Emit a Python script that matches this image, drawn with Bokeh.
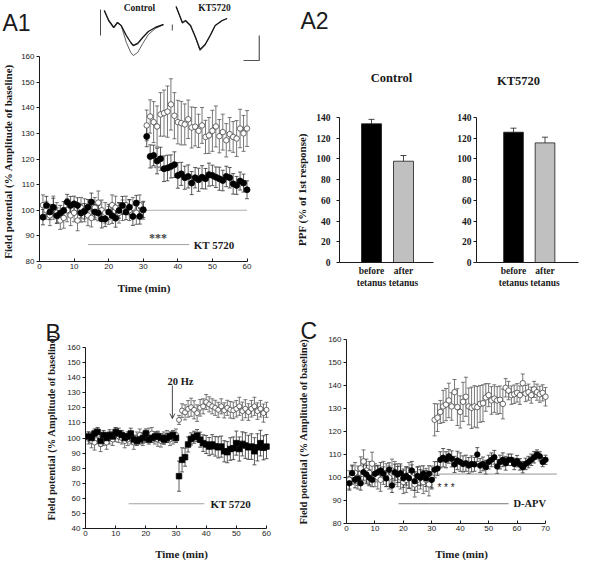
import math
from bokeh.plotting import figure
from bokeh.models import (Range1d, ColumnDataSource, Whisker, Label, Arrow, OpenHead,
                          FixedTicker, LinearAxis)
from bokeh.embed import file_html
from bokeh.resources import INLINE

SANS = "Liberation Sans"
SERIF = "Liberation Serif"
INK = "#1a1a1a"
GRAY_BAR = "#c0c0c0"

# ---------------- A1 data ----------------
A1_TIME = list(range(1, 61))
A1_KT = [97.3, 101.9, 99.3, 101.2, 97.9, 98.9, 99.9, 103.2, 101.9, 102.5,
         101.9, 98.9, 99.6, 101.2, 103.2, 99.3, 98.9, 96.6, 96.6, 99.3,
         97.9, 96.9, 99.9, 101.9, 99.3, 101.2, 97.6, 102.8, 97.6, 100.2,
         128.8, 121.0, 121.4, 119.2, 120.1, 116.2, 116.5, 117.1, 117.8, 113.6,
         114.2, 112.7, 113.2, 110.6, 112.7, 111.9, 112.9, 112.3, 113.9, 113.6,
         112.9, 112.3, 111.6, 113.2, 112.7, 110.3, 109.7, 111.4, 110.6, 108.0]
A1_KT_ERR = [3.0, 3.5, 3.0, 3.5, 3.0, 3.0, 3.5, 3.0, 3.5, 3.0,
             3.0, 3.5, 3.0, 3.0, 3.5, 3.0, 3.0, 3.5, 3.0, 3.0,
             3.0, 3.5, 3.0, 3.5, 3.0, 3.0, 3.5, 3.0, 3.0, 3.0,
             4.0, 4.5, 4.0, 5.0, 4.5, 5.0, 5.0, 4.5, 5.0, 5.0,
             4.5, 4.5, 4.5, 4.5, 4.0, 4.5, 4.5, 4.0, 4.5, 4.0,
             4.0, 4.5, 4.0, 4.0, 4.0, 4.0, 3.5, 3.5, 3.5, 3.5]
A1_CTRL = [102.0, 100.0, 98.0, 101.0, 99.0, 96.0, 97.0, 100.0, 98.0, 99.0,
           96.0, 101.0, 100.0, 98.0, 97.0, 101.0, 103.0, 100.0, 99.0, 98.0,
           102.0, 101.0, 99.0, 100.0, 102.0, 100.0, 101.0, 99.0, 102.0, 100.0,
           133.1, 136.6, 134.4, 132.7, 137.4, 137.9, 138.5, 141.3, 136.9, 134.4,
           134.0, 133.5, 135.5, 132.3, 132.6, 131.0, 133.1, 128.6, 129.2, 131.0,
           132.7, 128.9, 130.5, 127.3, 129.7, 128.6, 128.0, 131.9, 130.0, 131.9]
A1_CTRL_ERR = [4.0, 3.5, 4.0, 4.5, 4.0, 3.5, 4.0, 4.5, 4.0, 3.5,
               4.0, 4.0, 4.5, 4.0, 3.5, 4.0, 4.5, 4.0, 4.0, 3.5,
               4.0, 4.5, 4.0, 4.0, 3.5, 4.0, 4.0, 4.5, 4.0, 3.5,
               6.0, 6.5, 8.0, 8.0, 8.5, 9.0, 10.0, 10.0, 9.0, 8.5,
               8.5, 8.0, 7.5, 8.0, 7.5, 6.5, 7.0, 6.5, 7.0, 8.0,
               8.0, 6.5, 7.0, 6.5, 6.5, 6.0, 7.0, 7.5, 7.0, 7.0]

# inset field-potential traces (time in ms, amplitude in mV)
CTRL_TRACE_T = [0.6, 1.3, 2.1, 2.7, 3.3, 4.1, 4.8, 5.2, 5.9, 6.7, 7.6, 8.7, 10.0]
CTRL_TRACE_PRE = [0.05, -0.2, -0.375, -0.25, -0.33, -0.575, -0.75, -0.825, -0.775,
                  -0.625, -0.475, -0.375, -0.3]
CTRL_TRACE_POST = [0.05, -0.2, -0.375, -0.25, -0.33, -0.75, -1.0, -1.075, -1.0,
                   -0.775, -0.55, -0.4, -0.3]
KT_TRACE_T = [0.6, 1.6, 2.1, 2.9, 3.7, 4.4, 5.2, 6.0, 6.8, 7.9, 8.7]
KT_TRACE_PRE = [0.15, -0.25, -0.2, -0.325, -0.625, -0.925, -0.8, -0.575, -0.325, -0.2, -0.15]
KT_TRACE_POST = [0.15, -0.27, -0.22, -0.34, -0.64, -0.95, -0.82, -0.59, -0.33, -0.21, -0.15]
CTRL_ARTIFACT = [0.075, -0.575]
KT_ARTIFACT = [-0.3, -0.45]
KT_TRACE_OFFSET = 11.4           # ms, horizontal placement of the KT5720 trace
SCALE_MS, SCALE_MV = 2.5, 0.625  # scale bar size
SCALE_CORNER = (25.2, -1.2)

# ---------------- A2 data ----------------
A2_GROUPS = ["before\ntetanus", "after\ntetanus"]
A2_COLORS = ["black", GRAY_BAR]
A2_CONTROL = [133.9, 97.8]
A2_CONTROL_ERR = [4.3, 5.5]
A2_KT = [125.8, 115.5]
A2_KT_ERR = [3.9, 5.5]

# ---------------- B data ----------------
B_TIME = list(range(1, 61))
B_KT = [101, 100, 103, 104, 98, 102, 100, 102, 101, 104,
        103, 102, 100, 101, 103, 99, 98, 99, 100, 103,
        99, 100, 101, 101, 100, 99, 100, 101, 102, 100,
        74.7, 85.5, 87.3, 95.7, 99.4, 100.5, 101.6, 98.9, 96.6, 95.7,
        94.3, 95.7, 94.5, 93.8, 94.3, 91.2, 90.6, 92.7, 93.2, 96.6,
        92.7, 96.1, 95.0, 93.8, 94.3, 91.2, 93.8, 96.6, 93.5, 94.3]
B_KT_ERR = [3.0, 3.5, 3.0, 3.0, 3.5, 3.0, 3.0, 3.5, 3.0, 3.0,
            3.5, 3.0, 3.0, 3.0, 3.5, 3.0, 3.0, 3.0, 3.5, 3.0,
            3.0, 3.0, 3.0, 3.5, 3.0, 3.0, 3.0, 3.0, 3.0, 3.0,
            10.0, 8.0, 6.0, 5.0, 4.0, 4.0, 4.0, 5.0, 5.5, 6.0,
            6.0, 6.5, 6.5, 7.0, 7.0, 7.0, 7.0, 7.5, 7.5, 8.0,
            8.0, 8.0, 8.5, 8.0, 8.5, 9.0, 9.0, 8.5, 8.0, 8.0]
B_CTRL = [100, 98, 97, 102, 96, 99, 97, 100, 99, 102,
          101, 100, 98, 99, 100, 97, 100, 102, 99, 101,
          102, 103, 100, 99, 98, 100, 101, 99, 100, 102,
          112.0, 118.2, 117.0, 119.3, 120.4, 118.7, 116.5, 120.0, 121.0, 123.8,
          122.3, 121.0, 120.0, 118.7, 121.0, 118.3, 120.0, 118.7, 118.3, 119.4,
          121.0, 117.8, 119.4, 117.2, 119.4, 121.0, 117.8, 119.4, 116.5, 118.7]
B_CTRL_ERR = [4.0, 4.5, 5.0, 4.0, 5.0, 4.0, 4.5, 4.0, 4.0, 4.5,
              4.0, 4.0, 4.5, 4.0, 4.0, 4.5, 4.0, 4.0, 4.0, 4.0,
              4.5, 4.0, 4.0, 4.5, 4.0, 4.0, 4.0, 4.0, 4.0, 4.0,
              3.0, 4.5, 5.0, 5.5, 6.0, 6.0, 5.5, 5.5, 5.0, 5.0,
              5.0, 5.0, 5.0, 5.0, 5.0, 5.0, 5.0, 5.5, 5.5, 5.5,
              6.0, 6.0, 6.0, 5.5, 5.5, 6.0, 5.5, 5.5, 6.0, 5.0]

# ---------------- C data ----------------
C_TIME = list(range(1, 71))
C_APV = [97.5, 101.9, 99.0, 99.6, 97.5, 102.3, 101.3, 99.9, 99.0, 101.6,
         102.3, 103.0, 101.6, 99.6, 103.4, 96.5, 102.3, 101.3, 101.9, 99.7,
         100.7, 99.7, 103.0, 98.4, 100.7, 99.9, 101.6, 99.6, 101.6, 99.0,
         103.4, 103.9, 107.7, 108.6, 107.7, 109.2, 108.1, 105.7, 107.4, 106.7,
         105.9, 106.2, 105.2, 105.9, 105.7, 110.0, 105.2, 105.9, 104.5, 106.7,
         107.7, 108.8, 104.8, 106.7, 107.7, 106.2, 107.7, 107.7, 105.9, 107.1,
         105.7, 104.5, 105.9, 106.7, 107.7, 108.8, 110.0, 109.2, 106.7, 107.7]
C_APV_ERR = [3.0, 3.5, 3.5, 3.0, 3.0, 3.5, 4.0, 3.5, 3.0, 3.5,
             3.0, 3.5, 3.0, 3.5, 3.0, 3.0, 3.5, 3.5, 4.0, 4.0,
             4.0, 4.5, 4.0, 4.0, 4.0, 3.5, 3.5, 3.5, 3.5, 3.5,
             3.5, 3.0, 3.5, 4.0, 3.5, 3.0, 3.5, 3.5, 4.0, 4.0,
             3.5, 3.5, 3.5, 3.5, 3.0, 3.0, 3.0, 3.0, 3.0, 3.0,
             3.0, 3.0, 3.0, 3.0, 3.0, 3.0, 2.5, 2.5, 2.5, 2.5,
             2.5, 2.5, 2.5, 2.5, 2.5, 2.5, 2.0, 2.0, 2.0, 2.0]
C_CTRL = [99, 101, 102, 100, 104, 107, 103, 102, 106, 101,
          100, 99, 102, 101, 100, 103, 102, 101, 100, 98,
          99, 101, 100, 97, 99, 100, 98, 99, 97, 100,
          125.1, 126.0, 128.5, 130.9, 131.7, 133.5, 130.9, 137.1, 130.6, 128.5,
          132.9, 135.1, 130.9, 130.3, 130.9, 130.6, 132.0, 132.3, 134.8, 135.8,
          133.5, 134.3, 133.5, 133.8, 132.0, 139.0, 137.8, 135.8, 136.2, 136.8,
          135.8, 141.0, 136.5, 137.1, 135.8, 138.3, 137.1, 136.2, 136.8, 135.1]
C_CTRL_ERR = [4.0, 4.0, 4.5, 5.0, 5.0, 5.0, 5.0, 5.0, 5.0, 5.0,
              5.0, 5.0, 5.0, 5.0, 5.0, 5.0, 5.0, 5.0, 5.0, 5.0,
              5.5, 5.5, 5.5, 5.5, 5.5, 5.0, 5.0, 5.0, 5.0, 5.0,
              7.0, 6.0, 5.0, 7.0, 7.0, 7.5, 6.0, 5.5, 8.0, 7.0,
              8.5, 8.5, 8.0, 9.0, 9.0, 9.0, 8.0, 8.0, 6.0, 5.0,
              6.0, 6.0, 6.0, 6.0, 6.5, 4.0, 4.0, 4.0, 4.0, 4.0,
              4.0, 4.0, 3.5, 3.5, 3.5, 3.5, 3.5, 3.5, 3.5, 4.0]

Y_LABEL = "Field potential (% Amplitude of baseline)"

# ---------------- page geometry (one canvas, panels placed by ranges) ----------------
W, H = 600, 560
PX0, PY0 = 0, 0


def xr(a, Xa, b, Xb):
    k = (Xb - Xa) / (b - a)
    start = a - (Xa - PX0) / k
    return Range1d(start, start + W / k)


def yr(a, Ya, b, Yb):
    k = (Ya - Yb) / (b - a)
    start = a - (PY0 + H - Ya) / k
    return Range1d(start, start + H / k)


p = figure(width=W, height=H, x_range=Range1d(PX0, PX0 + W), y_range=Range1d(PY0 + H, PY0),
           x_axis_type=None, y_axis_type=None, title=None,
           output_backend="svg", toolbar_location=None, min_border=0)
p.outline_line_color = None
p.grid.visible = False
p.background_fill_color = "white"
p.border_fill_color = "white"

p.extra_x_ranges = {
    "a1x": xr(0, 39, 60, 246.5),
    "a2cx": xr(1, 371, 2, 403),
    "a2kx": xr(1, 513, 2, 544.5),
    "bx": xr(0, 85, 60, 266),
    "cx": xr(0, 346, 70, 545),
    "tx": xr(0, 100, 10, 163),
}
p.extra_y_ranges = {
    "a1y": yr(80, 261, 160, 56),
    "a2y": yr(0, 262, 140, 117),
    "by": yr(40, 528, 160, 347),
    "cy": yr(80, 523, 160, 339),
    "ty": yr(-1, 52, 0, 12),
}


def axis_style(ax, font, size, style):
    ax.axis_line_color = INK
    ax.axis_line_width = 1
    ax.major_tick_line_color = INK
    ax.major_tick_line_width = 1
    ax.minor_tick_line_color = None
    ax.major_label_text_font = font
    ax.major_label_text_font_size = size
    ax.major_label_text_font_style = style
    ax.major_label_text_color = INK


def add_axes(xn, yn, xb, yb, xticks, yticks, font=SANS, size="8px", style="normal",
             ystand=2, xlabels=None, xticks_visible=True):
    xa = LinearAxis(x_range_name=xn, y_range_name=yn, fixed_location=yb[0], bounds=xb,
                    ticker=FixedTicker(ticks=xticks))
    axis_style(xa, font, size, style)
    xa.major_tick_in = 3
    xa.major_tick_out = 0
    xa.major_label_standoff = 2
    if xlabels is not None:
        xa.major_label_overrides = xlabels
        xa.major_label_standoff = 3
    if not xticks_visible:
        xa.major_tick_line_color = None
    p.add_layout(xa, "below")
    ya = LinearAxis(x_range_name=xn, y_range_name=yn, fixed_location=xb[0], bounds=yb,
                    ticker=FixedTicker(ticks=yticks))
    axis_style(ya, font, size, style)
    ya.major_tick_in = 0
    ya.major_tick_out = 3
    ya.major_label_standoff = ystand
    p.add_layout(ya, "left")
    return xa, ya


def add_series(xn, yn, t, v, e, marker, fill, line, size, ecolor):
    src = ColumnDataSource(dict(t=t, v=v,
                                lo=[a - b for a, b in zip(v, e)],
                                hi=[a + b for a, b in zip(v, e)]))
    w = Whisker(source=src, base="t", lower="lo", upper="hi", x_range_name=xn,
                y_range_name=yn, line_color=ecolor, line_width=0.8)
    for head in (w.upper_head, w.lower_head):
        head.size = 4
        head.line_color = ecolor
        head.line_width = 0.8
    p.add_layout(w)
    p.scatter("t", "v", source=src, marker=marker, size=size, x_range_name=xn,
              y_range_name=yn, fill_color=fill, line_color=line, line_width=0.8)


def add_text(x, y, s, size, font=SERIF, style="bold", align="left", baseline="middle",
             xn="default", yn="default", color=INK, angle=0.0):
    p.add_layout(Label(x=x, y=y, text=s, x_range_name=xn, y_range_name=yn,
                       text_font=font, text_font_size=size, text_font_style=style,
                       text_align=align, text_baseline=baseline, text_color=color,
                       angle=angle))


VERT = math.pi / 2

# ================= A1 =================
add_axes("a1x", "a1y", (0, 60), (80, 160), list(range(0, 61, 10)), list(range(80, 161, 10)))
p.segment(x0=[30], y0=[100], x1=[60], y1=[100], line_color="#999999", line_width=0.8,
          x_range_name="a1x", y_range_name="a1y")
p.segment(x0=[14], y0=[86.6], x1=[43.3], y1=[86.6], line_color="#888888", line_width=0.8,
          x_range_name="a1x", y_range_name="a1y")
add_series("a1x", "a1y", A1_TIME, A1_CTRL, A1_CTRL_ERR, "circle", "white", "#444444", 5.5, "#555555")
add_series("a1x", "a1y", A1_TIME, A1_KT, A1_KT_ERR, "circle", "black", "black", 6, "#333333")
add_text(44.6, 86.6, "KT 5720", "11px", xn="a1x", yn="a1y")
add_text(34.3, 89.0, "***", "12px", align="center", xn="a1x", yn="a1y", color="#444444")
add_text(33.5, 116.3, "***", "7px", align="center", xn="a1x", yn="a1y", color="#777777")
add_text(143.5, 287, "Time (min)", "11px", align="center")
add_text(7, 161, Y_LABEL, "11px", align="center", angle=VERT)
add_text(2, 22, "A1", "23px", font=SANS, style="normal", baseline="alphabetic")

# inset traces
kw = dict(x_range_name="tx", y_range_name="ty", line_color=INK)
p.line(CTRL_TRACE_T, CTRL_TRACE_PRE, line_width=1.4, **kw)
p.line(CTRL_TRACE_T, CTRL_TRACE_POST, line_width=0.7, **kw)
p.line([0, 0], CTRL_ARTIFACT, line_width=0.8, **kw)
p.line([t + KT_TRACE_OFFSET for t in KT_TRACE_T], KT_TRACE_PRE, line_width=1.3, **kw)
p.line([t + KT_TRACE_OFFSET for t in KT_TRACE_T], KT_TRACE_POST, line_width=0.7, **kw)
p.line([KT_TRACE_OFFSET, KT_TRACE_OFFSET], KT_ARTIFACT, line_width=0.8, **kw)
sx, sy = SCALE_CORNER
p.line([sx - SCALE_MS, sx, sx], [sy, sy, sy + SCALE_MV], line_width=1.2,
       x_range_name="tx", y_range_name="ty", line_color="#555555")
add_text(139, 7, "Control", "9.5px", align="center")
add_text(214, 7, "KT5720", "9.5px", align="center")

# ================= A2 =================
A2_POS = [i + 1 for i in range(len(A2_GROUPS))]
A2_LABELS = {pos: g for pos, g in zip(A2_POS, A2_GROUPS)}


def bar_panel(xn, xb, vals, errs, ystand):
    add_axes(xn, "a2y", xb, (0, 140), A2_POS, list(range(0, 141, 20)), font=SERIF,
             size="9.5px", style="bold", ystand=ystand, xlabels=A2_LABELS,
             xticks_visible=False)
    src = ColumnDataSource(dict(x=A2_POS, top=vals, color=A2_COLORS,
                                hi=[v + e for v, e in zip(vals, errs)]))
    w_ = Whisker(source=src, base="x", lower="top", upper="hi", x_range_name=xn,
                 y_range_name="a2y", line_color=INK, line_width=0.8, lower_head=None)
    w_.upper_head.size = 6
    w_.upper_head.line_color = INK
    w_.upper_head.line_width = 0.8
    p.add_layout(w_)
    p.vbar(x="x", top="top", width=0.625, source=src, fill_color="color",
           line_color=INK, line_width=0.8, x_range_name=xn, y_range_name="a2y")


bar_panel("a2cx", (0.0, 2.94), A2_CONTROL, A2_CONTROL_ERR, 6)
bar_panel("a2kx", (-0.175, 3.06), A2_KT, A2_KT_ERR, 2)
add_text(391, 77, "Control", "12.5px", align="center")
add_text(518, 80, "KT5720", "12.5px", align="center")
add_text(301.5, 189, "PPF (% of 1st response)", "11px", align="center", angle=VERT)
add_text(300, 20, "A2", "23px", font=SANS, style="normal", baseline="alphabetic")

# ================= B =================
add_axes("bx", "by", (0, 60), (40, 160), list(range(0, 61, 10)), list(range(40, 161, 10)))
p.segment(x0=[14.3], y0=[56.4], x1=[39.4], y1=[56.4], line_color="#888888", line_width=0.8,
          x_range_name="bx", y_range_name="by")
add_series("bx", "by", B_TIME, B_CTRL, B_CTRL_ERR, "circle", "white", "#444444", 5, "#555555")
add_series("bx", "by", B_TIME, B_KT, B_KT_ERR, "square", "black", "black", 5.5, "#333333")
p.add_layout(Arrow(end=OpenHead(size=5, line_width=0.8, line_color=INK),
                   x_start=28.8, y_start=134.8, x_end=28.8, y_end=112.9,
                   x_range_name="bx", y_range_name="by", line_width=0.8, line_color=INK))
add_text(31.5, 137.5, "20 Hz", "10.5px", align="center", xn="bx", yn="by")
add_text(41.4, 56.4, "KT 5720", "11px", xn="bx", yn="by")
add_text(181, 553, "Time (min)", "11px", align="center")
add_text(51, 427, Y_LABEL, "10.5px", align="center", angle=VERT)
add_text(45, 332, "B", "23px", font=SANS, style="normal", baseline="alphabetic")

# ================= C =================
add_axes("cx", "cy", (0, 70), (80, 160), list(range(0, 71, 10)), list(range(80, 161, 10)))
p.segment(x0=[30], y0=[101.5], x1=[74], y1=[101.5], line_color="#777777", line_width=0.8,
          x_range_name="cx", y_range_name="cy")
p.segment(x0=[18.3], y0=[88.6], x1=[57], y1=[88.6], line_color="#555555", line_width=0.8,
          x_range_name="cx", y_range_name="cy")
add_series("cx", "cy", C_TIME, C_CTRL, C_CTRL_ERR, "circle", "white", "#444444", 5.5, "#555555")
add_series("cx", "cy", C_TIME, C_APV, C_APV_ERR, "circle", "black", "black", 5.5, "#333333")
add_text(58.7, 88.6, "D-APV", "10.5px", xn="cx", yn="cy")
add_text(35, 95.5, "* * *", "10px", align="center", xn="cx", yn="cy", font=SANS, style="normal")
add_text(461, 553, "Time (min)", "11px", align="center")
add_text(303, 431, Y_LABEL, "10.5px", align="center", angle=VERT)
add_text(300, 330, "C", "23px", font=SANS, style="normal", baseline="alphabetic")

open("out.html", "w").write(file_html(p, INLINE))
